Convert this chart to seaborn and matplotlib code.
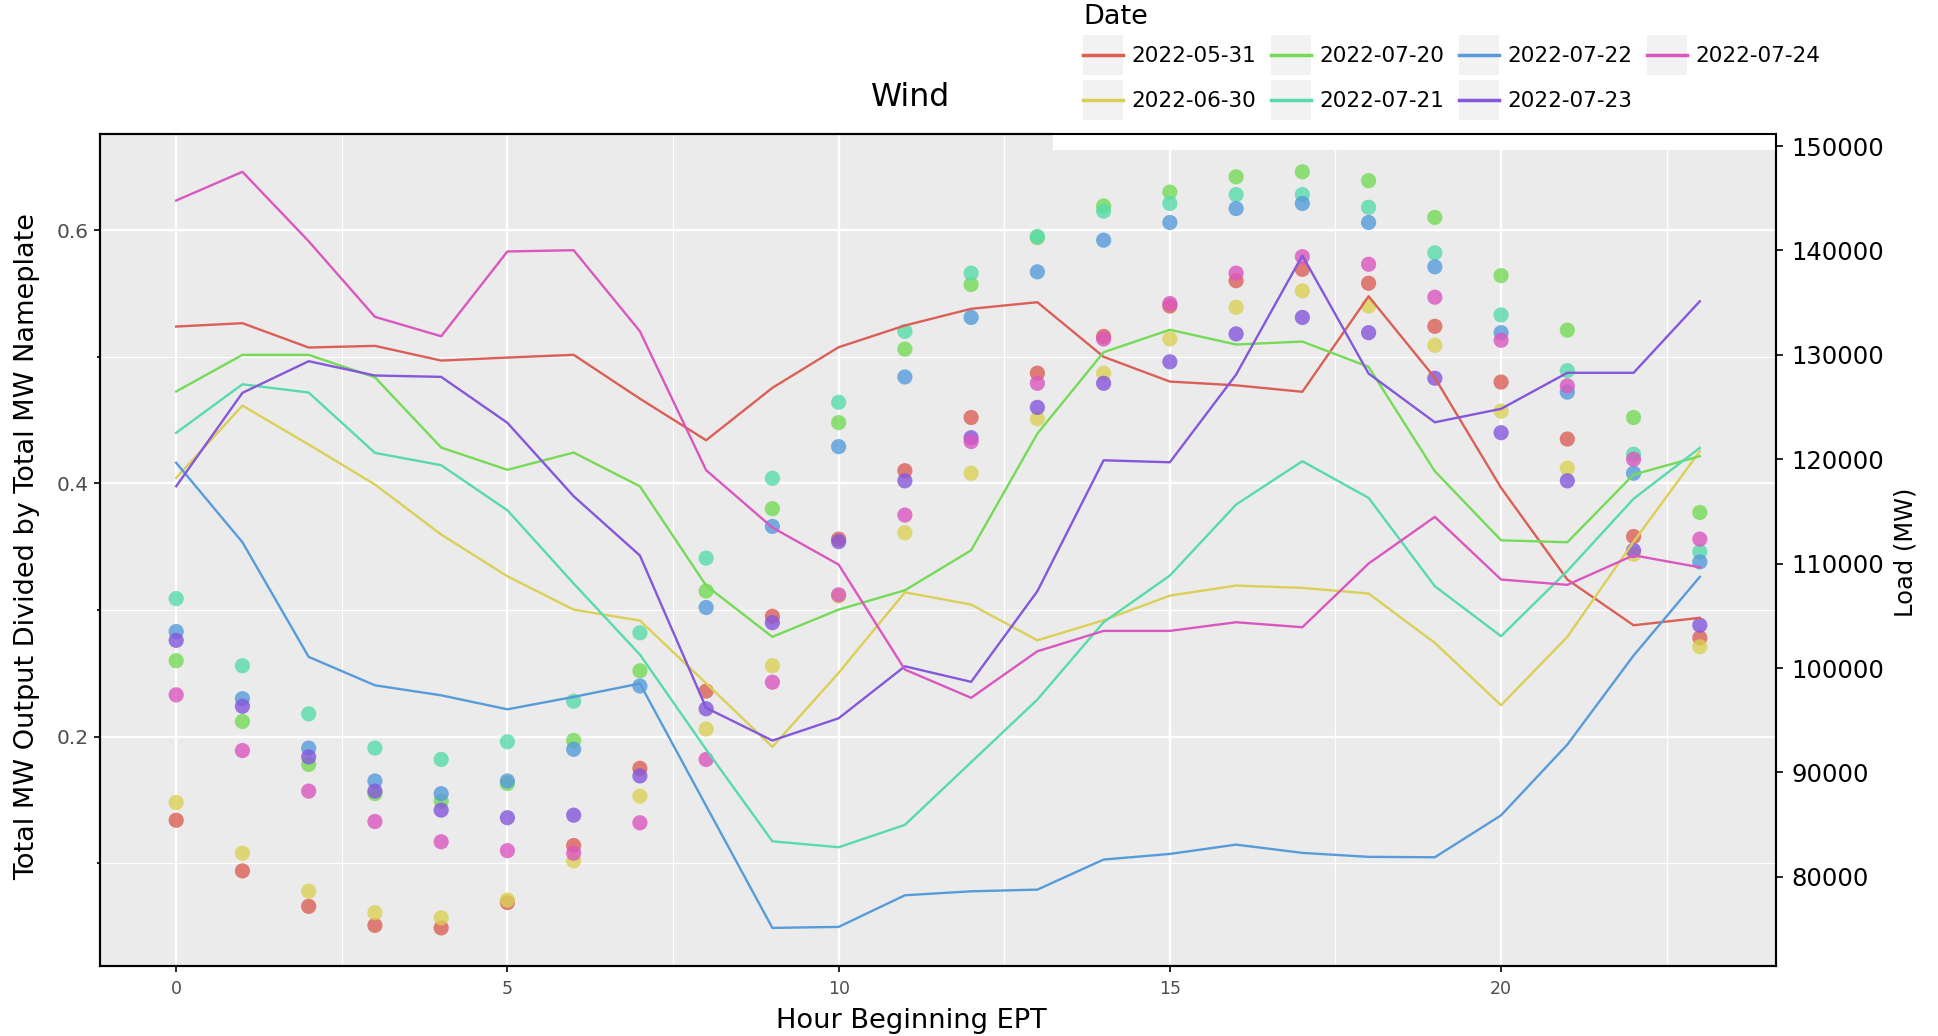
import matplotlib
matplotlib.use("Agg")
import numpy as np
import matplotlib.pyplot as plt
from matplotlib.lines import Line2D
from matplotlib.patches import Rectangle
from matplotlib.legend_handler import HandlerLine2D
from matplotlib.ticker import MultipleLocator, StrMethodFormatter
import seaborn as sns
import pandas as pd

# ---- data -------------------------------------------------------------
hours = list(range(24))
dates = ["2022-05-31", "2022-06-30", "2022-07-20", "2022-07-21",
         "2022-07-22", "2022-07-23", "2022-07-24"]

# wind output / nameplate (capacity factor), hour 0..23
cf_0531 = [0.134, 0.094, 0.066, 0.051, 0.049, 0.069, 0.114, 0.175, 0.236, 0.295, 0.356, 0.410,
           0.452, 0.487, 0.516, 0.540, 0.560, 0.569, 0.558, 0.524, 0.480, 0.435, 0.358, 0.278]
cf_0630 = [0.148, 0.108, 0.078, 0.061, 0.057, 0.071, 0.102, 0.153, 0.206, 0.256, 0.311, 0.361,
           0.408, 0.451, 0.487, 0.514, 0.539, 0.552, 0.540, 0.509, 0.457, 0.412, 0.344, 0.271]
cf_0720 = [0.260, 0.212, 0.178, 0.155, 0.149, 0.163, 0.197, 0.252, 0.315, 0.380, 0.448, 0.506,
           0.557, 0.594, 0.619, 0.630, 0.642, 0.646, 0.639, 0.610, 0.564, 0.521, 0.452, 0.377]
cf_0721 = [0.309, 0.256, 0.218, 0.191, 0.182, 0.196, 0.228, 0.282, 0.341, 0.404, 0.464, 0.520,
           0.566, 0.595, 0.615, 0.621, 0.628, 0.628, 0.618, 0.582, 0.533, 0.489, 0.423, 0.346]
cf_0722 = [0.283, 0.230, 0.191, 0.165, 0.155, 0.165, 0.190, 0.240, 0.302, 0.366, 0.429, 0.484,
           0.531, 0.567, 0.592, 0.606, 0.617, 0.621, 0.606, 0.571, 0.519, 0.472, 0.408, 0.338]
cf_0723 = [0.276, 0.224, 0.184, 0.157, 0.142, 0.136, 0.138, 0.169, 0.222, 0.290, 0.354, 0.402,
           0.436, 0.460, 0.479, 0.496, 0.518, 0.531, 0.519, 0.483, 0.440, 0.402, 0.347, 0.288]
cf_0724 = [0.233, 0.189, 0.157, 0.133, 0.117, 0.110, 0.108, 0.132, 0.182, 0.243, 0.312, 0.375,
           0.433, 0.479, 0.514, 0.542, 0.566, 0.579, 0.573, 0.547, 0.513, 0.477, 0.419, 0.356]

# system load (MW), hour 0..23
load_0531 = [132710, 133030, 130700, 130860, 129450, 129740, 130000, 125800, 121820, 126840, 130730, 132810,
             134410, 135040, 129810, 127440, 127080, 126460, 135610, 127800, 117260, 108480, 104100, 104810]
load_0630 = [118220, 125140, 121410, 117580, 112790, 108790, 105600, 104550, 98540, 92450, 99540, 107260,
             106080, 102660, 104580, 106940, 107900, 107680, 107140, 102410, 96440, 102990, 112100, 120770]
load_0720 = [126490, 130000, 130000, 127850, 121120, 118990, 120640, 117410, 107900, 102990, 105600, 107450,
             111280, 122460, 130250, 132400, 130990, 131270, 128850, 118850, 112240, 112050, 118530, 120290]
load_0721 = [122530, 127180, 126390, 120610, 119430, 115110, 108100, 101290, 92200, 83410, 82840, 84980,
             90980, 96980, 104390, 108860, 115660, 119810, 116300, 107840, 103050, 109300, 116210, 121090]
load_0722 = [119660, 112050, 101070, 98350, 97390, 96050, 97240, 98520, 86800, 75115, 75210, 78240,
             78620, 78780, 81660, 82200, 83090, 82300, 81920, 81880, 85900, 92670, 101200, 108740]
load_0723 = [117410, 126360, 129390, 128020, 127890, 123490, 116460, 110780, 96190, 93060, 95190, 100170,
             98680, 107360, 119900, 119710, 128110, 139510, 128210, 123540, 124830, 128280, 128280, 135130]
load_0724 = [144780, 147530, 140880, 133640, 131780, 139900, 140020, 132260, 118950, 113460, 109910, 99860,
             97150, 101610, 103560, 103560, 104390, 103910, 110010, 114480, 108480, 107970, 110800, 109650]

cf_series = [cf_0531, cf_0630, cf_0720, cf_0721, cf_0722, cf_0723, cf_0724]
load_series = [load_0531, load_0630, load_0720, load_0721, load_0722, load_0723, load_0724]

rows = []
for d, cf, ld in zip(dates, cf_series, load_series):
    for h, c, l in zip(hours, cf, ld):
        rows.append({"Date": d, "Hour": h, "CF": c, "Load": l})
df = pd.DataFrame(rows)

palette = sns.color_palette("hls", len(dates))


class CenteredLine(HandlerLine2D):
    """Legend line drawn through the vertical middle of its key box."""

    def create_artists(self, legend, orig_handle, xdescent, ydescent,
                       width, height, fontsize, trans):
        artists = super().create_artists(legend, orig_handle, xdescent, ydescent,
                                         width, height, fontsize, trans)
        y_mid = height / 2 - ydescent
        for a in artists:
            xd = np.asarray(a.get_xdata(), dtype=float)
            a.set_ydata(np.full_like(xd, y_mid))
        return artists


# ---- figure -----------------------------------------------------------
W, H = 1938, 1036
fig = plt.figure(figsize=(W / 100, H / 100), dpi=100)
fig.patch.set_facecolor("white")

ax_l, ax_r, ax_b, ax_t = 100, 1776, 965.7, 134
ax = fig.add_axes([ax_l / W, 1 - ax_b / H, (ax_r - ax_l) / W, (ax_b - ax_t) / H])
ax.set_facecolor("#EBEBEB")
ax.set_axisbelow(True)

sns.scatterplot(data=df, x="Hour", y="CF", hue="Date", hue_order=dates, palette=palette,
                s=120, alpha=0.8, linewidth=0, legend=False, ax=ax, zorder=3)

ax2 = ax.twinx()
sns.lineplot(data=df, x="Hour", y="Load", hue="Date", hue_order=dates, palette=palette,
             linewidth=1.7, legend=False, ax=ax2)

# grid on the capacity-factor axes
ax.xaxis.set_major_locator(MultipleLocator(5))
ax.xaxis.set_minor_locator(MultipleLocator(2.5))
ax.yaxis.set_major_locator(MultipleLocator(0.2))
ax.yaxis.set_minor_locator(MultipleLocator(0.1))
ax.grid(True, which="major", color="white", linewidth=1.7)
ax.grid(True, which="minor", color="white", linewidth=0.8)
ax2.grid(False)

ax2.yaxis.set_major_locator(MultipleLocator(10000))
ax2.yaxis.set_major_formatter(StrMethodFormatter("{x:.0f}"))

for a in (ax, ax2):
    for sp in a.spines.values():
        sp.set_color("black")
        sp.set_linewidth(1.5)
        sp.set_visible(True)

ax.tick_params(axis="x", which="major", length=4, width=1.2, color="black", pad=6,
               labelsize=12.5, labelcolor="#4D4D4D")
ax.tick_params(axis="x", which="minor", length=0)
ax.tick_params(axis="y", which="major", length=4.5, width=1.2, color="black", pad=3.5,
               labelsize=14.5, labelcolor="#4D4D4D")
ax.tick_params(axis="y", which="minor", length=2, width=1.2, color="black")
ax2.tick_params(axis="y", which="major", length=5, width=1.2, color="black", pad=6,
                labelsize=17.5, labelcolor="black")

# labels
ax.set_title("Wind", fontsize=22.7, x=(911 - ax_l) / (ax_r - ax_l),
             y=(ax_b - 106) / (ax_b - ax_t), va="baseline", pad=0)
ax.set_xlabel("Hour Beginning EPT", fontsize=19.6)
ax.xaxis.label.set_va("baseline")
ax.xaxis.set_label_coords((911 - ax_l) / (ax_r - ax_l), (ax_b - 1028) / (ax_b - ax_t))
ax.set_ylabel("Total MW Output Divided by Total MW Nameplate", fontsize=19.5)
ax.yaxis.label.set_va("center")
ax.yaxis.set_label_coords((27 - ax_l) / (ax_r - ax_l), (ax_b - 546) / (ax_b - ax_t))
ax2.set_ylabel("Load (MW)", fontsize=17.4)
ax2.yaxis.label.set_va("center")
ax2.yaxis.label.set_ha("center")
ax2.yaxis.set_label_coords((1906 - ax_l) / (ax_r - ax_l), (ax_b - 552) / (ax_b - ax_t))

# legend with grey key backgrounds (square keys, 40 px)
handles = [(Rectangle((0, 0), 1, 1, facecolor="#F2F2F2", edgecolor="none"),
            Line2D([], [], color=c, linewidth=2.5)) for c in palette]
leg_fs = 15.5
em = leg_fs * 100 / 72
key_pt = 40 * 72 / 100
key_h = (key_pt / leg_fs - 0.245) / 0.65
leg = ax.legend(handles, dates, title="Date", title_fontsize=19.5, fontsize=leg_fs,
                loc="lower left", bbox_to_anchor=(1053 / W, 1 - 150 / H),
                bbox_transform=fig.transFigure, borderaxespad=0, ncol=4,
                handlelength=40 / em, handleheight=key_h, handletextpad=8.7 / em,
                columnspacing=14.3 / em, labelspacing=5 / em, borderpad=30 / em,
                frameon=True, fancybox=False, facecolor="white", edgecolor="none",
                framealpha=1, alignment="left",
                handler_map={Line2D: CenteredLine()})

fig.savefig("out.png", dpi=100, facecolor="white")
